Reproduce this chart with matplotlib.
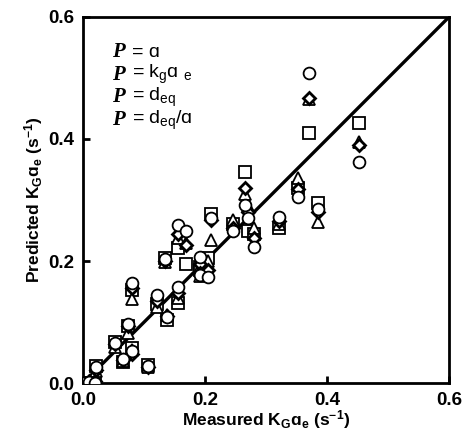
import matplotlib.pyplot as plt

plt.rcParams['font.family'] = ['Liberation Sans', 'DejaVu Sans']
plt.rcParams['mathtext.fontset'] = 'custom'
plt.rcParams['mathtext.rm'] = 'Liberation Sans'
plt.rcParams['mathtext.bf'] = 'Liberation Sans:bold'
plt.rcParams['mathtext.default'] = 'regular'

# measured KGae and predictions for each P
measured = [0.000, 0.010, 0.020, 0.021, 0.052, 0.066, 0.074, 0.080, 0.080, 0.107,
            0.121, 0.138, 0.134, 0.156, 0.156, 0.168, 0.192, 0.192, 0.205, 0.210,
            0.246, 0.266, 0.270, 0.280, 0.321, 0.352, 0.370, 0.385, 0.452]
pred_a = [0.000, 0.002, 0.000, 0.026, 0.066, 0.040, 0.097, 0.052, 0.164, 0.028,
          0.144, 0.108, 0.203, 0.157, 0.259, 0.250, 0.207, 0.177, 0.174, 0.270,
          0.250, 0.292, 0.270, 0.223, 0.272, 0.305, 0.508, 0.285, 0.362]
pred_kga = [0.000, 0.003, 0.003, 0.022, 0.064, 0.038, 0.094, 0.048, 0.156, 0.027,
            0.134, 0.110, 0.200, 0.148, 0.245, 0.226, 0.195, 0.180, 0.185, 0.267,
            0.254, 0.320, 0.280, 0.238, 0.265, 0.318, 0.467, 0.280, 0.390]
pred_deq = [0.000, 0.002, 0.004, 0.020, 0.060, 0.036, 0.082, 0.055, 0.138, 0.026,
            0.124, 0.112, 0.198, 0.140, 0.238, 0.230, 0.190, 0.175, 0.200, 0.234,
            0.267, 0.310, 0.290, 0.254, 0.260, 0.336, 0.465, 0.264, 0.395]
pred_deq_a = [0.000, 0.001, 0.002, 0.028, 0.068, 0.035, 0.094, 0.058, 0.152, 0.030,
              0.130, 0.104, 0.205, 0.131, 0.221, 0.196, 0.190, 0.185, 0.205, 0.277,
              0.260, 0.346, 0.250, 0.245, 0.254, 0.320, 0.410, 0.295, 0.426]

fig = plt.figure(figsize=(4.64, 4.44), dpi=100)
ax = fig.add_axes([0.179, 0.137, 0.789, 0.825])

ax.plot(measured, pred_deq_a, 's', ms=8.5, mfc='white', mec='black', mew=1.3, zorder=3)
ax.plot(measured, pred_deq, '^', ms=8.5, mfc='white', mec='black', mew=1.3, zorder=4)
ax.plot(measured, pred_kga, 'D', ms=6, mfc='white', mec='black', mew=2, zorder=5)
ax.plot(measured, pred_a, 'o', ms=8.5, mfc='white', mec='black', mew=1.3, zorder=6)

# 1:1 line
ax.plot([0, 0.6], [0, 0.6], color='black', lw=2.4, zorder=2)

ax.set_xlim(0, 0.6)
ax.set_ylim(0, 0.6)
ax.set_xticks([0.0, 0.2, 0.4, 0.6])
ax.set_yticks([0.0, 0.2, 0.4, 0.6])
ax.set_xticklabels(['0.0', '0.2', '0.4', '0.6'], fontweight='bold', fontsize=13.5)
ax.set_yticklabels(['0.0', '0.2', '0.4', '0.6'], fontweight='bold', fontsize=13.5)
ax.tick_params(direction='in', length=5, width=2, pad=6)
for s in ax.spines.values():
    s.set_linewidth(2)

ax.set_xlabel('Measured K$_G$ɑ$_e$ (s$^{-1}$)', fontweight='bold', fontsize=12.5, labelpad=0)
ax.set_ylabel('Predicted K$_G$ɑ$_e$ (s$^{-1}$)', fontweight='bold', fontsize=12.5, labelpad=3)

# legend text
labels = ['= ɑ', '= k$_g$ɑ $_e$', '= d$_{eq}$', '= d$_{eq}$/ɑ']
for i, lab in enumerate(labels):
    y = 0.904 - i * 0.062
    ax.text(0.08, y, 'P', transform=ax.transAxes, fontsize=15, fontweight='bold',
            fontstyle='italic', family='Liberation Serif', va='center')
    ax.text(0.135, y, lab, transform=ax.transAxes, fontsize=14, va='center')

fig.savefig('out.png', dpi=100)
